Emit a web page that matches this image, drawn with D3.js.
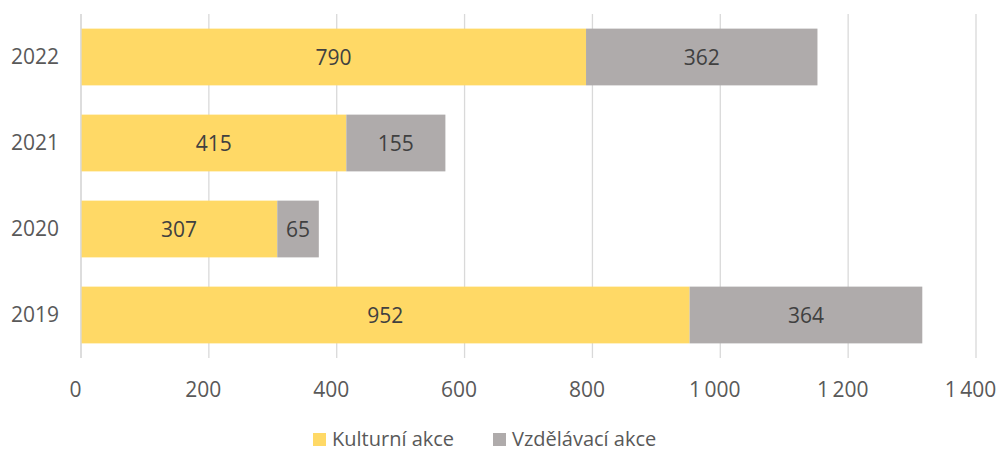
<!DOCTYPE html>
<html>
<head>
<meta charset="utf-8">
<script src="https://cdn.jsdelivr.net/npm/d3@7"></script>
<style>
body{margin:0;background:#fff;}
text{font-family:"Open Sans",sans-serif;fill:#595959;}
</style>
</head>
<body>
<svg id="chart" width="998" height="452"></svg>
<script>
let years=["2022","2021","2020","2019"];
let kulturni=[790,415,307,952];
let vzdelavaci=[362,155,65,364];
let seriesNames=["Kulturní akce","Vzdělávací akce"];
let colors=["#FFD966","#AFABAB"];
let ticks=[0,200,400,600,800,1000,1200,1400];

let width=998,height=452;
let mLeft=81,mRight=976,mTop=14,mBottom=358;

const svg=d3.select("#chart");

const xScale=d3.scaleLinear()
               .domain([0,1400])
               .range([mLeft,mRight]);

const yScale=d3.scaleBand()
               .domain(years)
               .range([mTop,mBottom])
               .paddingInner(0.34)
               .paddingOuter(0.17);

// gridlines
svg.append("g")
   .selectAll("line")
   .data(ticks)
   .enter()
   .append("line")
   .attr("x1",(d)=>xScale(d))
   .attr("x2",(d)=>xScale(d))
   .attr("y1",mTop)
   .attr("y2",mBottom)
   .attr("stroke","#d9d9d9")
   .attr("stroke-width",1.3);

let fmt=(d)=>d3.format(",")(d).replace(/,/g,"\u2009");

const xAxis=d3.axisBottom(xScale).tickValues(ticks).tickFormat(fmt).tickSize(0).tickPadding(24);
svg.append("g")
   .attr("transform","translate(-6,"+mBottom+")")
   .call(xAxis)
   .call((g)=>g.select(".domain").remove())
   .selectAll("text")
   .style("font-size","21px")
   .style("font-family","'Open Sans',sans-serif")
   .attr("fill","#595959");

const yAxis=d3.axisLeft(yScale).tickSize(0).tickPadding(22);
svg.append("g")
   .attr("transform","translate("+mLeft+",0)")
   .call(yAxis)
   .call((g)=>g.select(".domain").remove())
   .selectAll("text")
   .style("font-size","21px")
   .style("font-family","'Open Sans',sans-serif")
   .attr("fill","#595959");

let rows=years.map((y,i)=>({year:y,a:kulturni[i],b:vzdelavaci[i]}));

let g=svg.append("g");
g.selectAll(".ka")
 .data(rows)
 .enter()
 .append("rect")
 .attr("x",xScale(0))
 .attr("y",(d)=>yScale(d.year))
 .attr("width",(d)=>xScale(d.a)-xScale(0))
 .attr("height",yScale.bandwidth())
 .attr("fill",colors[0]);

g.selectAll(".va")
 .data(rows)
 .enter()
 .append("rect")
 .attr("x",(d)=>xScale(d.a))
 .attr("y",(d)=>yScale(d.year))
 .attr("width",(d)=>xScale(d.a+d.b)-xScale(d.a))
 .attr("height",yScale.bandwidth())
 .attr("fill",colors[1]);

// zero line on top
svg.append("line")
   .attr("x1",xScale(0)).attr("x2",xScale(0))
   .attr("y1",mTop).attr("y2",mBottom)
   .attr("stroke","#d9d9d9").attr("stroke-width",1.3);

g.selectAll(".la")
 .data(rows)
 .enter()
 .append("text")
 .attr("x",(d)=>(xScale(0)+xScale(d.a))/2)
 .attr("y",(d)=>yScale(d.year)+yScale.bandwidth()/2)
 .attr("text-anchor","middle")
 .attr("dy","0.36em")
 .style("font-size","21px")
 .style("fill","#404040")
 .text((d)=>d.a);

g.selectAll(".lb")
 .data(rows)
 .enter()
 .append("text")
 .attr("x",(d)=>(xScale(d.a)+xScale(d.a+d.b))/2)
 .attr("y",(d)=>yScale(d.year)+yScale.bandwidth()/2)
 .attr("text-anchor","middle")
 .attr("dy","0.36em")
 .style("font-size","21px")
 .style("fill","#404040")
 .text((d)=>d.b);

// legend
let legendX=[313,493];
let legend=svg.append("g");
seriesNames.forEach((name,i)=>{
  legend.append("rect")
        .attr("x",legendX[i])
        .attr("y",433)
        .attr("width",13)
        .attr("height",13)
        .attr("fill",colors[i]);
  legend.append("text")
        .attr("x",legendX[i]+19)
        .attr("y",446)
        .style("font-size","20px")
        .text(name);
});
</script>
</body>
</html>
